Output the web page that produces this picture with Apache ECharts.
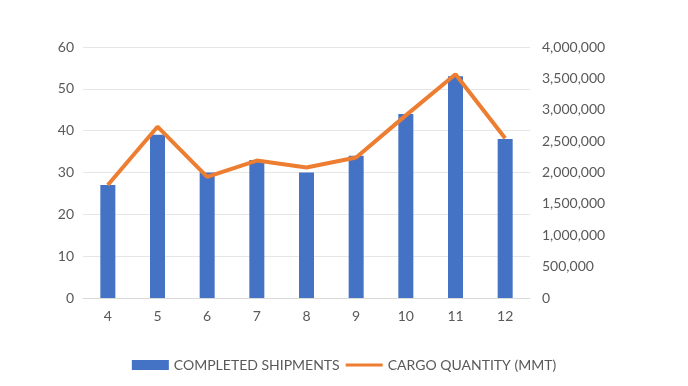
<!DOCTYPE html>
<html><head><meta charset="utf-8">
<script src="https://cdn.jsdelivr.net/npm/echarts@6/dist/echarts.min.js"></script>
<style>html,body{margin:0;padding:0;background:#fff}#c{width:688px;height:386px}</style>
</head><body><div id="c"></div>
<script>
var categories = ['4','5','6','7','8','9','10','11','12'];
var shipments = [27, 39, 30, 33, 30, 34, 44, 53, 38];
var cargo = [1800000, 2730000, 1930000, 2190000, 2080000, 2240000, 2910000, 3565000, 2545000];
var seriesNames = ['COMPLETED SHIPMENTS', 'CARGO QUANTITY (MMT)'];

var font = 'Lato, "Open Sans", sans-serif';
var txt = '#595959';
var chart = echarts.init(document.getElementById('c'), null, {renderer:'canvas'});
chart.setOption({
  animation:false,
  textStyle:{fontFamily:font},
  grid:{left:83, right:158, top:47, bottom:88, containLabel:false},
  legend:{
    data:[{name:seriesNames[0], icon:'rect'}, {name:seriesNames[1], icon:'path://M0,0 H40 V3.2 H0 Z'}],
    bottom:9, left:'center', itemWidth:37, itemHeight:10, itemGap:6,
    textStyle:{color:txt, fontSize:14, fontFamily:font}
  },
  xAxis:{
    type:'category', data:categories,
    axisLine:{lineStyle:{color:'#D9D9D9'}}, axisTick:{show:false},
    axisLabel:{color:txt, fontSize:14, margin:11}
  },
  yAxis:[
    {type:'value', min:0, max:60, interval:10,
     axisLabel:{color:txt, fontSize:14, margin:9},
     splitLine:{lineStyle:{color:'#E6E6E6'}}, axisLine:{show:false}, axisTick:{show:false}},
    {type:'value', min:0, max:4000000, interval:500000,
     axisLabel:{color:txt, fontSize:14, margin:12, formatter:function(v){return v.toLocaleString('en-US');}},
     splitLine:{show:false}, axisLine:{show:false}, axisTick:{show:false}}
  ],
  series:[
    {name:seriesNames[0], type:'bar', data:shipments, barWidth:15, itemStyle:{color:'#4472C4'}, yAxisIndex:0},
    {name:seriesNames[1], type:'line', data:cargo, yAxisIndex:1, symbol:'none',
     lineStyle:{color:'#ED7D31', width:4}, itemStyle:{color:'#ED7D31'}}
  ]
});
</script></body></html>
